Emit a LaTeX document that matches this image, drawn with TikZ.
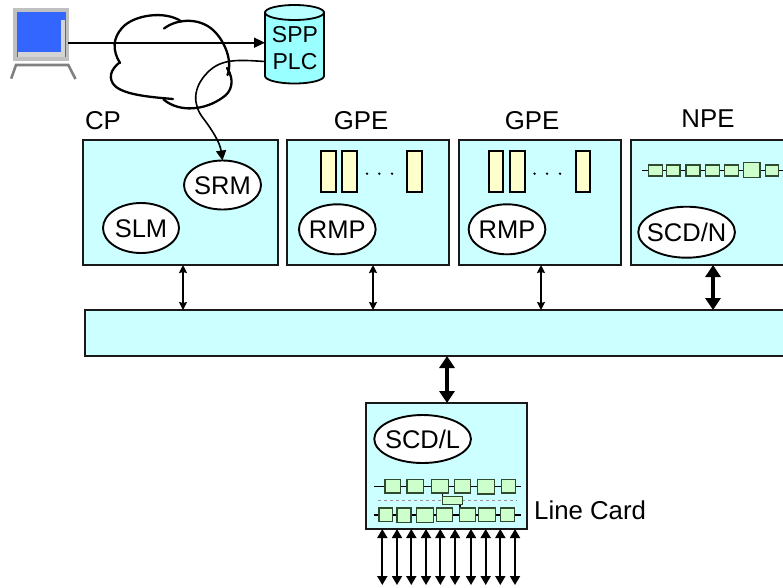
\documentclass[tikz,border=0pt]{standalone}
\usepackage{fontspec}
\setmainfont{Liberation Sans}
\usetikzlibrary{arrows.meta,shapes.geometric}
\definecolor{panel}{HTML}{CCFFFF}
\definecolor{cylbody}{HTML}{99FFFF}
\definecolor{cyltop}{HTML}{B8FFFF}
\definecolor{qgreen}{HTML}{CCFFCC}
\definecolor{qyellow}{HTML}{FFFFCC}
\definecolor{screen}{HTML}{3366FF}
\definecolor{lightg}{HTML}{C0C0C0}
\definecolor{midg}{HTML}{808080}
\definecolor{dashg}{HTML}{A09090}
\definecolor{qedge}{HTML}{2F4A2F}
\newcommand{\proctext}[1]{\makebox[0pt]{\smash{\raisebox{-0.36em}{#1}}}}
\tikzset{
  x=1pt,y=-1pt,
  panelbox/.style={draw=black!90,fill=panel,line width=1.9pt,inner sep=0pt,outer sep=0pt,anchor=north west},
  proc/.style={draw=black,fill=white,line width=1.9pt,ellipse,inner sep=0pt,outer sep=0pt,font=\fontsize{25.5}{25.5}\selectfont},
  lbl/.style={font=\fontsize{25.8}{26}\selectfont,inner sep=0pt},
  thinarrow/.style={line width=1.7pt,{Stealth[length=8pt,width=8pt,inset=1pt]}-{Stealth[length=8pt,width=8pt,inset=1pt]}},
  thickarrow/.style={line width=3.6pt,{Triangle[length=12pt,width=15pt]}-{Triangle[length=12pt,width=15pt]}},
  portarrow/.style={line width=1.8pt,{Triangle[length=9pt,width=10pt]}-{Triangle[length=9pt,width=10pt]}},
  qbox/.style={draw=qedge,fill=qgreen,line width=1.2pt},
  slot/.style={draw=black,fill=qyellow,line width=1.8pt},
  chainline/.style={line width=1.5pt},
  cloudline/.style={line width=2.3pt,line cap=round,line join=round},
  flow/.style={line width=1.6pt}
}
\begin{document}
\begin{tikzpicture}
\useasboundingbox (0,0) rectangle (783,587);
\clip (0,0) rectangle (783,587);
\fill[white] (0,0) rectangle (783,587);

% monitor
\fill[lightg] (13.3,8.3) rectangle (69.3,61);
\fill[screen] (16.7,11.7) rectangle (66,57.3);
\fill[lightg!70!white] (60.7,20) rectangle (65,56.7);
\fill[lightg!70!white] (17.7,51.7) rectangle (65,56.7);
\draw[midg,line width=2.6pt] (11.2,78.6) -- (16,65) -- (68.3,65) -- (75.5,79);
\coordinate (monitor) at (68.3,42.7);

% cloud
\draw[cloudline] (120,63) .. controls (112,50) and (113,38) .. (122,28) .. controls (133,15) and (165,10) .. (181.5,21.5);
\draw[cloudline] (164,28.5) .. controls (178,18) and (200,18) .. (213,30) .. controls (224,40) and (233,60) .. (227.5,75);
\draw[cloudline] (227,68) .. controls (235,80) and (232,92) .. (222,98) .. controls (205,110) and (180,113) .. (163.5,99.5);
\draw[cloudline] (173,99) .. controls (150,97) and (125,95) .. (115,86) .. controls (108,79) and (110,70) .. (119.5,62.5);

% database
\draw[black,fill=cylbody,line width=1.8pt] (265,12.5) -- (265,76) arc[start angle=180,end angle=0,x radius=29.5,y radius=7.5] -- (324,12.5) -- cycle;
\draw[black,fill=cyltop,line width=1.8pt] (294.5,12.5) ellipse[x radius=29.5,y radius=7.5];
\node[font=\fontsize{23}{27}\selectfont,align=center,inner sep=0pt] (plc) at (295,48) {SPP\\PLC};
\coordinate (dbwest) at (265,42.7);
\coordinate (dbout) at (265,61.5);

% panels
\node[panelbox,minimum width=195pt,minimum height=125pt] (cp) at (83,140) {};
\node[panelbox,minimum width=162pt,minimum height=125pt] (gpea) at (287,140) {};
\node[panelbox,minimum width=162pt,minimum height=125pt] (gpeb) at (459,140) {};
\node[panelbox,minimum width=170pt,minimum height=125pt] (npe) at (631,140) {};
\node[panelbox,minimum width=715pt,minimum height=46pt] (bus) at (85,310) {};
\node[panelbox,minimum width=161pt,minimum height=126pt] (card) at (366,403) {};

% panel titles
\node[lbl] (tcp) at (103,121) {CP};
\node[lbl] (tgpea) at (361,121) {GPE};
\node[lbl] (tgpeb) at (532,121) {GPE};
\node[lbl] (tnpe) at (708,119) {NPE};
\node[lbl,anchor=west] (tcard) at (534,510) {Line Card};

% processes
\node[proc,minimum width=76pt,minimum height=50pt] (slm) at (141,228) {\proctext{SLM}};
\node[proc,minimum width=77pt,minimum height=49pt] (srm) at (222.5,185) {\proctext{SRM}};
\node[proc,minimum width=76.7pt,minimum height=50pt] (rmpa) at (337.3,229.3) {\proctext{RMP}};
\node[proc,minimum width=76.7pt,minimum height=50pt] (rmpb) at (507,229.3) {\proctext{RMP}};
\node[proc,minimum width=96.7pt,minimum height=51pt] (scdn) at (686.6,232.2) {\proctext{SCD/N}};
\node[proc,minimum width=96.7pt,minimum height=48pt] (scdl) at (422.6,439) {\proctext{SCD/L}};

% GPE slots
\foreach \a/\b in {320.7/336,342/357.3,407.3/422,488.7/503,510/525,576/590}
  \draw[slot] (\a,150.7) rectangle (\b,192.3);
\foreach \x in {367,379.3,392,534.5,547,560}
  \fill (\x,173.7) circle[radius=1.3];

% NPE queue chain
\draw[chainline] (642,170.7) -- (790,170.7);
\foreach \a/\b/\t/\e in {648.3/662.3/165/176,666.7/680/165/176,686/700/165/176,705.3/719.3/165/176,724.3/738.3/165/176,743.7/760/162.7/177.3,765.3/778.3/165/176}
  \draw[qbox] (\a,\t) rectangle (\b,\e);

% Line card queue chains
\draw[dashg,dashed,line width=0.8pt] (378,500) -- (517,500);
\draw[chainline] (374,486.5) -- (521,486.5);
\draw[chainline] (374,515) -- (521,515);
\draw[chainline] (442.7,493) -- (442.7,498);
\draw[chainline] (460,504) -- (460,509);
\foreach \a/\b/\t/\e in {385/400.7/479.5/493,407/423.3/479.5/493,431.7/448.3/479.5/493,454.3/470.7/479.5/493,477.3/494.7/479.5/494,501.7/515.7/479.5/493,
    379/392.7/508/521.7,397/411/508/522.5,416.7/433.7/508/522.5,436.7/452.7/508/521.7,459.3/475.7/508/521.7,478.7/495.7/508/521.7,500.7/514.7/508/521.7,442.3/462.7/496.7/504.7}
  \draw[qbox] (\a,\t) rectangle (\b,\e);

% connectors
\draw[flow,-{Triangle[length=11pt,width=10pt]}] (monitor) -- (dbwest);
\draw[flow,-{Triangle[length=10pt,width=10pt]}] (dbout) .. controls (240,60) and (222,58) .. (208,72) .. controls (192,88) and (193,105) .. (203,118) .. controls (213,131) and (220,143) .. (srm.north);

\coordinate (xcp) at (183,0);
\coordinate (xga) at (373,0);
\coordinate (xgb) at (541,0);
\coordinate (xnp) at (713,0);
\coordinate (xca) at (447,0);
\draw[thinarrow] (cp.south -| xcp) -- (bus.north -| xcp);
\draw[thinarrow] (gpea.south -| xga) -- (bus.north -| xga);
\draw[thinarrow] (gpeb.south -| xgb) -- (bus.north -| xgb);
\draw[thickarrow] (npe.south -| xnp) -- (bus.north -| xnp);
\draw[thickarrow] (bus.south -| xca) -- (card.north -| xca);

\coordinate (portend) at (0,585);
\foreach \x in {382.3,397,411.3,426,440.3,455,471,485.7,500.3,515}{
  \coordinate (px) at (\x,0);
  \draw[portarrow] (card.south -| px) -- (portend -| px);
}
\end{tikzpicture}
\end{document}
